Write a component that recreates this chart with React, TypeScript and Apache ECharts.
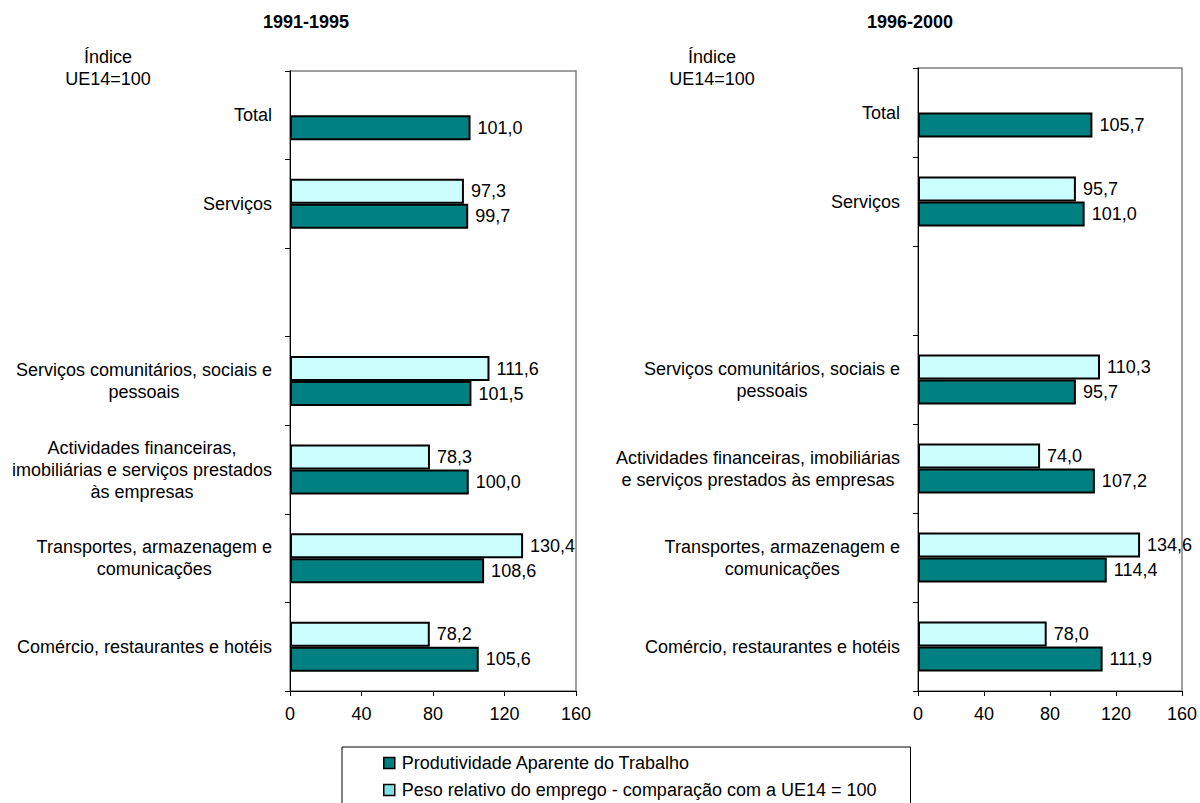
import React, { useEffect, useRef } from 'react';
import * as echarts from 'echarts';

const periods = ['1991-1995', '1996-2000'];
const indexLabel = ['Índice', 'UE14=100'];

const categoriesLeft = [
  'Total',
  'Serviços',
  '',
  'Serviços comunitários, sociais e\npessoais',
  'Actividades financeiras,\nimobiliárias e serviços prestados\nàs empresas',
  'Transportes, armazenagem e\ncomunicações',
  'Comércio, restaurantes e hotéis',
];
const categoriesRight = [
  'Total',
  'Serviços',
  '',
  'Serviços comunitários, sociais e\npessoais',
  'Actividades financeiras, imobiliárias\ne serviços prestados às empresas',
  'Transportes, armazenagem e\ncomunicações',
  'Comércio, restaurantes e hotéis',
];

const nameProd = 'Produtividade Aparente do Trabalho';
const namePeso = 'Peso relativo do emprego - comparação com a UE14 = 100';

const peso9195 = [null, 97.3, null, 111.6, 78.3, 130.4, 78.2];
const prod9195 = [101.0, 99.7, null, 101.5, 100.0, 108.6, 105.6];
const peso9600 = [null, 95.7, null, 110.3, 74.0, 134.6, 78.0];
const prod9600 = [105.7, 101.0, null, 95.7, 107.2, 114.4, 111.9];

const xMin = 0;
const xMax = 160;
const xStep = 40;

const FONT = "'Liberation Sans', Arial, sans-serif";
const DARK = '#008080';
const LIGHT = '#CCFFFF';
const LEGEND_LIGHT = '#80E0E0';

const fmt = (p: any) =>
  p.value == null ? '' : Number(p.value).toFixed(1).replace('.', ',');

export default function App() {
  const ref = useRef<HTMLDivElement>(null);

  useEffect(() => {
    const chart = echarts.init(ref.current!, null, { renderer: 'svg' });

    const grids = [
      { left: 290, top: 71, width: 286, height: 620 },
      { left: 918, top: 68, width: 265, height: 623 },
    ];
    const cats = [categoriesLeft, categoriesRight];
    const pesoData = [peso9195, peso9600];
    const prodData = [prod9195, prod9600];
    const titleX = [306, 910];
    const indexX = [108, 712];

    const option: any = {
      animation: false,
      backgroundColor: '#ffffff',
      textStyle: { fontFamily: FONT },
      grid: grids.map((g) => ({
        ...g,
        containLabel: false,
        show: true,
        borderColor: '#808080',
        borderWidth: 1.5,
        backgroundColor: 'transparent',
      })),
      xAxis: grids.map((_, i) => ({
        type: 'value',
        gridIndex: i,
        min: xMin,
        max: xMax,
        interval: xStep,
        splitLine: { show: false },
        axisLine: { show: true, lineStyle: { color: '#000', width: 1 } },
        axisTick: { show: true, inside: false, length: 5, lineStyle: { color: '#000' } },
        axisLabel: {
          color: '#000',
          fontSize: 18,
          fontFamily: FONT,
          margin: 14,
          formatter: (v: number) => String(v),
        },
      })),
      yAxis: grids.map((_, i) => ({
        type: 'category',
        gridIndex: i,
        inverse: true,
        data: cats[i],
        axisLine: { show: true, lineStyle: { color: '#000', width: 1 } },
        axisTick: {
          show: true,
          inside: false,
          length: 5,
          alignWithLabel: false,
          lineStyle: { color: '#000' },
        },
        axisLabel: {
          margin: 18,
          color: '#000',
          fontSize: 18,
          fontFamily: FONT,
          lineHeight: 22,
          interval: 0,
          formatter: (v: string) =>
            v === '' ? '' : v.split('\n').map((l) => `{c|${l}}`).join('\n'),
          rich: {
            c: {
              align: 'center',
              fontSize: 18,
              fontFamily: FONT,
              color: '#000',
              lineHeight: 22,
            },
          },
        },
      })),
      legend: {
        orient: 'vertical',
        left: 342,
        top: 747,
        height: 120,
        padding: [7, 34, 30, 41],
        itemGap: 9,
        itemWidth: 11,
        itemHeight: 11,
        borderColor: '#000',
        borderWidth: 1,
        backgroundColor: '#fff',
        textStyle: { fontSize: 18, fontFamily: FONT, color: '#000', padding: [0, 0, 0, 2] },
        data: [
          {
            name: nameProd,
            icon: 'rect',
            itemStyle: { color: DARK, borderColor: '#000', borderWidth: 1.5 },
          },
          {
            name: namePeso,
            icon: 'rect',
            itemStyle: { color: LEGEND_LIGHT, borderColor: '#000', borderWidth: 1.5 },
          },
        ],
      },
      series: grids.flatMap((_, i) => [
        {
          name: namePeso,
          type: 'bar',
          xAxisIndex: i,
          yAxisIndex: i,
          data: pesoData[i],
          barWidth: 25,
          barGap: '0%',
          itemStyle: { color: LIGHT, borderColor: '#000', borderWidth: 2 },
          label: {
            show: true,
            position: 'right',
            distance: 7,
            color: '#000',
            fontSize: 18,
            fontFamily: FONT,
            formatter: fmt,
          },
        },
        {
          name: nameProd,
          type: 'bar',
          xAxisIndex: i,
          yAxisIndex: i,
          data: prodData[i],
          barWidth: 25,
          barGap: '0%',
          itemStyle: { color: DARK, borderColor: '#000', borderWidth: 2 },
          label: {
            show: true,
            position: 'right',
            distance: 7,
            color: '#000',
            fontSize: 18,
            fontFamily: FONT,
            formatter: fmt,
          },
        },
      ]),
      graphic: [
        ...periods.map((p, i) => ({
          type: 'text',
          x: titleX[i],
          y: 22,
          style: {
            text: p,
            align: 'center',
            verticalAlign: 'middle',
            font: `bold 18px ${FONT}`,
            fill: '#000',
          },
        })),
        ...indexX.flatMap((x) =>
          indexLabel.map((t, j) => ({
            type: 'text',
            x,
            y: 57 + j * 22,
            style: {
              text: t,
              align: 'center',
              verticalAlign: 'middle',
              font: `18px ${FONT}`,
              fill: '#000',
            },
          }))
        ),
      ],
    };

    chart.setOption(option);
    return () => chart.dispose();
  }, []);

  return (
    <div
      ref={ref}
      style={{
        position: 'fixed',
        left: 0,
        top: 0,
        width: 1200,
        height: 803,
        background: '#fff',
      }}
    />
  );
}
